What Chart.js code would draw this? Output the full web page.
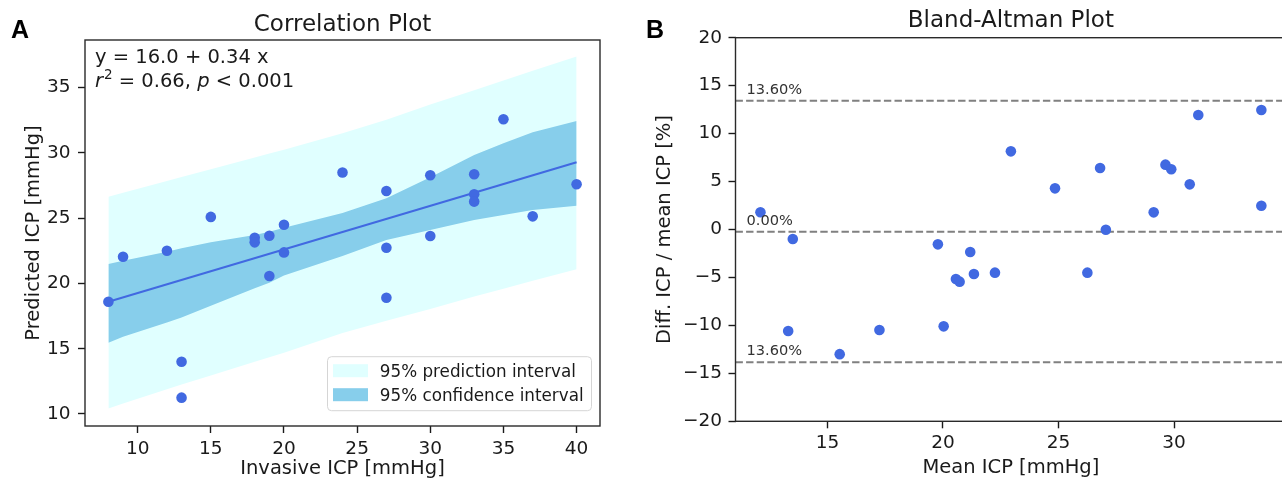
<!DOCTYPE html>
<html>
<head>
<meta charset="utf-8">
<script src="https://cdn.jsdelivr.net/npm/chart.js@4.4.0/dist/chart.umd.min.js"></script>
<style>
  html, body { margin: 0; padding: 0; background: #fff; overflow: hidden; width: 1282px; height: 481px; }
  .panel { position: absolute; top: 0; }
  #wrapA { left: 0; }
  #wrapB { left: 640px; }
  .tag { position: absolute; font: bold 25px "Liberation Sans", Arial, sans-serif; line-height: 25px; color: #000; }
</style>
</head>
<body>
<div class="panel" id="wrapA"><canvas id="corr" width="640" height="481"></canvas></div>
<div class="panel" id="wrapB"><canvas id="ba" width="660" height="481"></canvas></div>
<div class="tag" style="left:11px;top:17px">A</div>
<div class="tag" style="left:646px;top:17px">B</div>
<script>
// ---- A: correlation plot ----
const corrX = [8, 9, 12, 13, 13, 15, 18, 18, 19, 19, 20, 20, 24, 27, 27, 27, 30, 30, 33, 33, 33, 35, 37, 40];
const corrY = [18.6, 22.05, 22.5, 14.0, 11.25, 25.1, 23.5, 23.15, 23.66, 20.57, 24.5, 22.38, 28.5, 27.08, 22.74, 18.9, 28.29, 23.64, 28.36, 26.83, 26.27, 32.58, 25.14, 27.6];

const bandX     = [8, 9, 12, 13, 15, 18, 19, 20, 24, 27, 30, 33, 35, 37, 40];
const predUpper = [26.65, 26.95, 27.85, 28.15, 28.75, 29.65, 29.95, 30.25, 31.5, 32.55, 33.7, 34.8, 35.55, 36.3, 37.38];
const predLower = [10.43, 10.8, 11.9, 12.25, 12.95, 14.0, 14.35, 14.7, 16.2, 17.15, 18.05, 19.0, 19.6, 20.2, 21.08];
const confUpper = [21.49, 21.74, 22.43, 22.69, 23.15, 23.71, 23.97, 24.27, 25.4, 26.52, 28.13, 29.84, 30.74, 31.58, 32.45];
const confLower = [15.46, 15.92, 17.0, 17.4, 18.3, 19.63, 20.06, 20.6, 22.1, 23.33, 24.1, 24.86, 25.25, 25.63, 25.96];

const fitX = [8, 40];
const fitY = [18.6, 29.28];

const corrXRange = [6.4, 41.6];
const corrYRange = [9.08, 38.65];
const corrXTicks = [10, 15, 20, 25, 30, 35, 40];
const corrYTicks = [10, 15, 20, 25, 30, 35];
const legendLabels = ['95% prediction interval', '95% confidence interval'];
const fitEquation = 'y = 16.0 + 0.34 x';
const fitR2 = '0.66';
const fitP = '0.001';

// ---- B: Bland-Altman plot ----
const baMean = [12.1, 13.5, 13.3, 15.53, 17.25, 19.78, 20.03, 21.18, 20.56, 20.72, 21.34, 22.25, 22.94, 24.85, 26.25, 26.8, 27.05, 29.12, 29.63, 29.88, 30.68, 31.05, 33.78, 33.78];
const baDiff = [1.8, -0.99, -10.58, -13.0, -10.48, -1.55, -10.1, -2.35, -5.16, -5.44, -4.64, -4.5, 8.15, 4.29, -4.5, 6.41, -0.02, 1.79, 6.76, 6.28, 4.71, 11.94, 12.46, 2.48];
const baLimits = [13.43, -0.23, -13.85];
const baLimitLabels = ['13.60%', '0.00%', '13.60%'];
const baXRange = [11.02, 34.86];
const baYRange = [-20, 20];
const baXTicks = [15, 20, 25, 30];
const baYTicks = [-20, -15, -10, -5, 0, 5, 10, 15, 20];

const FONT = "'DejaVu Sans', sans-serif";
const INK = '#1a1a1a';
const ROYAL = '#4169e1';
const LIGHTCYAN = '#e0ffff';
const SKYBLUE = '#87ceeb';

const pts = (xs, ys) => xs.map((x, i) => ({ x: x, y: ys[i] }));

function axis(range, ticks, title, o) {
  return {
    type: 'linear',
    min: range[0],
    max: range[1],
    afterBuildTicks: s => { s.ticks = ticks.map(v => ({ value: v })); },
    afterFit: s => { if (o.width) s.width = o.width; if (o.height) s.height = o.height; },
    grid: { drawOnChartArea: false, drawTicks: true, tickLength: 7, tickWidth: 1.4, tickColor: INK },
    border: { display: false },
    ticks: {
      color: INK, padding: o.pad, font: { family: FONT, size: 18.5 },
      maxRotation: 0, autoSkip: false,
      callback: v => String(v).replace('-', '\u2212')
    },
    title: { display: true, text: title, color: INK, font: { family: FONT, size: 19.5, lineHeight: 1 }, padding: o.titlePad }
  };
}

const frame = {
  id: 'frame',
  afterDatasetsDraw(chart) {
    const a = chart.chartArea, ctx = chart.ctx;
    ctx.save();
    ctx.strokeStyle = '#2a2a2a';
    ctx.lineWidth = 1.4;
    ctx.strokeRect(a.left, a.top, a.right - a.left, a.bottom - a.top);
    ctx.restore();
  }
};

const legendBox = {
  id: 'legendBox',
  afterDraw(chart) {
    const a = chart.chartArea, ctx = chart.ctx;
    const w = 264, h = 54;
    const x = a.right - 8.5 - w, y = a.bottom - 15.3 - h;
    ctx.save();
    ctx.beginPath();
    ctx.roundRect(x, y, w, h, 4);
    ctx.fillStyle = 'rgba(255,255,255,0.8)';
    ctx.fill();
    ctx.strokeStyle = '#d5d5d5';
    ctx.lineWidth = 1;
    ctx.stroke();
    const colors = [LIGHTCYAN, SKYBLUE];
    ctx.font = '16.8px ' + FONT;
    ctx.textBaseline = 'alphabetic';
    legendLabels.forEach((t, i) => {
      ctx.fillStyle = colors[i];
      ctx.fillRect(x + 5.5, y + 7.5 + i * 24, 35, 13);
      ctx.fillStyle = INK;
      ctx.fillText(t, x + 52.3, y + 20.3 + i * 24);
    });
    ctx.restore();
  }
};

const fitNote = {
  id: 'fitNote',
  afterDraw(chart) {
    const a = chart.chartArea, ctx = chart.ctx;
    const x0 = a.left + 10;
    ctx.save();
    ctx.fillStyle = INK;
    ctx.textBaseline = 'alphabetic';
    ctx.font = '19.5px ' + FONT;
    ctx.fillText(fitEquation, x0, a.top + 22.7);
    const y = a.top + 47.3;
    const parts = [
      ['r', 'italic 19.5px ' + FONT, 0],
      ['2', '13.5px ' + FONT, -8],
      [' = ' + fitR2 + ', ', '19.5px ' + FONT, 0],
      ['p', 'italic 19.5px ' + FONT, 0],
      [' < ' + fitP, '19.5px ' + FONT, 0]
    ];
    let x = x0;
    parts.forEach(p => {
      ctx.font = p[1];
      ctx.fillText(p[0], x, y + p[2]);
      x += ctx.measureText(p[0]).width + (p[0] === 'r' ? 1 : 0);
    });
    ctx.restore();
  }
};

new Chart(document.getElementById('corr'), {
  type: 'scatter',
  data: {
    datasets: [
      { data: pts(corrX, corrY), backgroundColor: ROYAL, borderWidth: 0, pointRadius: 5.3, order: 0 },
      { type: 'line', data: pts(fitX, fitY), borderColor: ROYAL, borderWidth: 2, pointRadius: 0, fill: false, order: 1 },
      { type: 'line', label: legendLabels[1], data: pts(bandX, confUpper), borderWidth: 0, pointRadius: 0, backgroundColor: SKYBLUE, fill: '+1', order: 2 },
      { type: 'line', data: pts(bandX, confLower), borderWidth: 0, pointRadius: 0, fill: false, order: 2 },
      { type: 'line', label: legendLabels[0], data: pts(bandX, predUpper), borderWidth: 0, pointRadius: 0, backgroundColor: LIGHTCYAN, fill: '+1', order: 3 },
      { type: 'line', data: pts(bandX, predLower), borderWidth: 0, pointRadius: 0, fill: false, order: 3 }
    ]
  },
  options: {
    responsive: false,
    animation: false,
    events: [],
    layout: { padding: { left: 0, right: 40, top: 0, bottom: 0 } },
    plugins: {
      legend: { display: false },
      tooltip: { enabled: false },
      title: { display: true, text: 'Correlation Plot', color: INK, fullSize: false,
        font: { family: FONT, size: 23, weight: 'normal', lineHeight: 1 }, padding: { top: 13.4, bottom: 3.6 } }
    },
    scales: {
      x: axis(corrXRange, corrXTicks, 'Invasive ICP [mmHg]', { height: 55, pad: 5, titlePad: { top: 0, bottom: 2.1 } }),
      y: axis(corrYRange, corrYTicks, 'Predicted ICP [mmHg]', { width: 85, pad: 7.5, titlePad: { top: 24.5, bottom: 0 } })
    }
  },
  plugins: [frame, legendBox, fitNote]
});

const limitLabels = {
  id: 'limitLabels',
  afterDatasetsDraw(chart) {
    const a = chart.chartArea, ctx = chart.ctx, ys = chart.scales.y;
    ctx.save();
    ctx.font = '14.6px ' + FONT;
    ctx.fillStyle = '#333';
    ctx.textBaseline = 'alphabetic';
    baLimits.forEach((v, i) => ctx.fillText(baLimitLabels[i], a.left + 11, ys.getPixelForValue(v) - 7));
    ctx.restore();
  }
};

new Chart(document.getElementById('ba'), {
  type: 'scatter',
  data: {
    datasets: [
      { data: pts(baMean, baDiff), backgroundColor: ROYAL, borderWidth: 0, pointRadius: 5.3, order: 0 }
    ].concat(baLimits.map(v => ({
      type: 'line',
      data: [{ x: baXRange[0], y: v }, { x: baXRange[1], y: v }],
      borderColor: '#808080', borderWidth: 2, borderDash: [7.4, 3.2],
      pointRadius: 0, fill: false, order: 1
    })))
  },
  options: {
    responsive: false,
    animation: false,
    events: [],
    layout: { padding: { left: 0, right: 13.7, top: 0, bottom: 0 } },
    plugins: {
      legend: { display: false },
      tooltip: { enabled: false },
      title: { display: true, text: 'Bland-Altman Plot', color: INK, fullSize: false,
        font: { family: FONT, size: 23, weight: 'normal', lineHeight: 1 }, padding: { top: 10, bottom: 4.7 } }
    },
    scales: {
      x: axis(baXRange, baXTicks, 'Mean ICP [mmHg]', { height: 59.7, pad: 4, titlePad: { top: 0, bottom: 3.1 } }),
      y: axis(baYRange, baYTicks, 'Diff. ICP / mean ICP [%]', { width: 95.5, pad: 6.5, titlePad: { top: 14.9, bottom: 0 } })
    }
  },
  plugins: [frame, limitLabels]
});
</script>
</body>
</html>
